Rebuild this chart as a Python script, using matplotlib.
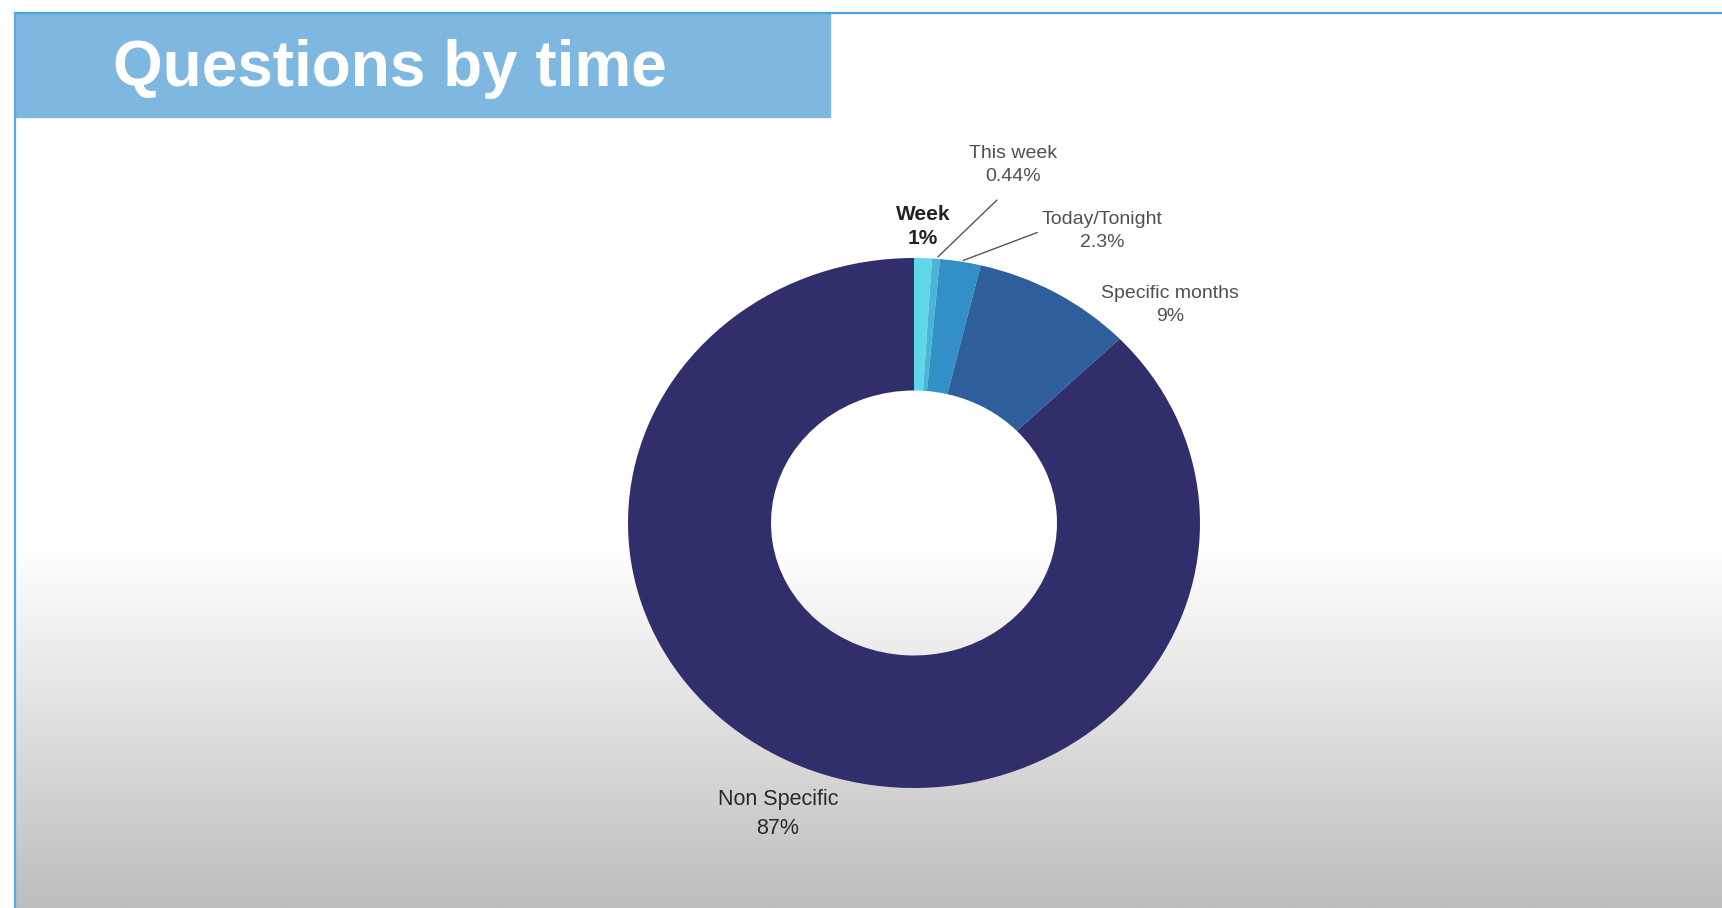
import numpy as np
import matplotlib
matplotlib.use("Agg")
import matplotlib.pyplot as plt
from matplotlib.patches import Rectangle

plt.rcParams["font.family"] = ["Liberation Sans", "DejaVu Sans"]

# data
categories = ["Week", "This week", "Today/Tonight", "Specific months", "Non Specific"]
shares = [1.0, 0.44, 2.3, 9.0, 87.0]
share_labels = ["1%", "0.44%", "2.3%", "9%", "87%"]
colors = ["#5fd7e8", "#4ab5d9", "#3290c6", "#2e5e9b", "#302f6b"]

W, H = 1722, 908
fig = plt.figure(figsize=(W / 100, H / 100), dpi=100)

# slide background in pixel coordinates
bg = fig.add_axes([0, 0, 1, 1])
bg.set_xlim(0, W)
bg.set_ylim(H, 0)
bg.axis("off")
grad = np.linspace(1.0, 0.0, 256).reshape(-1, 1)
bg.imshow(grad, cmap=matplotlib.colors.LinearSegmentedColormap.from_list(
    "g", ["#bdbdbd", "#ffffff"]), extent=[16, W, H, 550], aspect="auto", zorder=0)
bg.add_patch(Rectangle((15, 13), 815, 104, color="#7eb8e1", zorder=1))
bg.plot([15, W], [13, 13], color="#4ca2dc", lw=1.6, zorder=2)
bg.plot([15, 15], [13, H], color="#5aa8e2", lw=1.6, zorder=2)
bg.text(113, 69, "Questions by time", color="white", fontsize=46,
        fontweight="bold", va="center", ha="left", zorder=3)

# donut (slightly stretched horizontally, as in the reference)
cx, cy, rx, ry = 914, 523, 286, 265
ax = fig.add_axes([(cx - rx) / W, (H - cy - ry) / H, 2 * rx / W, 2 * ry / H])
wedges, _ = ax.pie(shares, colors=colors, startangle=90, counterclock=False,
                   wedgeprops=dict(width=0.5, edgecolor="none"))
ax.set_aspect("auto")
ax.set_xlim(-1, 1)
ax.set_ylim(-1, 1)
ax.axis("off")


def mid(w, r=1.0):
    a = np.deg2rad((w.theta1 + w.theta2) / 2)
    return r * np.cos(a), r * np.sin(a)


small = dict(fontsize=14, color="#505050", ha="center", va="center", linespacing=1.45)

# Week
ax.text(0.031, 1.118, f"{categories[0]}\n{share_labels[0]}", fontsize=15,
        fontweight="bold", color="#222222", ha="center", va="center", linespacing=1.3)
# This week with leader
ax.text(0.346, 1.351, f"{categories[1]}\n{share_labels[1]}", **small)
ax.annotate("", xy=mid(wedges[1]), xytext=(0.297, 1.226),
            arrowprops=dict(arrowstyle="-", color="#555555", lw=1))
# Today/Tonight with leader
ax.text(0.657, 1.102, f"{categories[2]}\n{share_labels[2]}", **small)
ax.annotate("", xy=mid(wedges[2]), xytext=(0.44, 1.10),
            arrowprops=dict(arrowstyle="-", color="#555555", lw=1))
# Specific months
ax.text(0.895, 0.823, f"{categories[3]}\n{share_labels[3]}", **small)
# Non Specific
ax.text(-0.476, -1.098, f"{categories[4]}\n{share_labels[4]}", fontsize=15.5,
        color="#2a2a2a", ha="center", va="center", linespacing=1.5)

for t in ax.texts:
    t.set_clip_on(False)

fig.savefig("out.png", dpi=100)
